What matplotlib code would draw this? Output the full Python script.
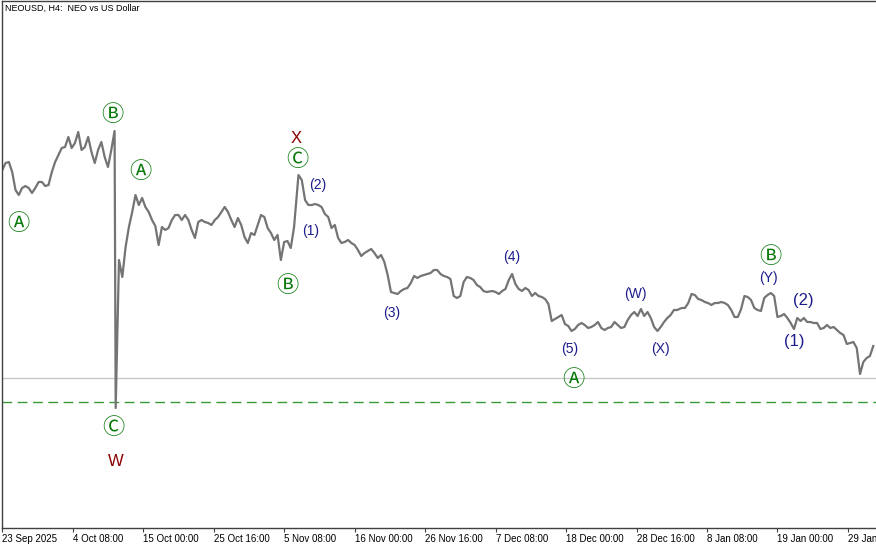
import matplotlib
matplotlib.use('Agg')
import matplotlib.pyplot as plt
import matplotlib.transforms as mtransforms
import pandas as pd

# NEOUSD H4, closes sampled every 12h, split where the time grid restarts
seg_a_start = '2025-09-23 16:00'
seg_a = [4.30, 4.37, 4.38, 4.28, 4.10, 4.05, 4.12, 4.14, 4.12, 4.07, 4.12, 4.18,
         4.18, 4.14, 4.15, 4.28, 4.38, 4.45, 4.52, 4.53, 4.63, 4.52, 4.57, 4.68,
         4.50, 4.53, 4.63, 4.48, 4.37, 4.50, 4.58, 4.43, 4.33, 4.50, 4.69]

crash_time = '2025-10-10 20:00'
crash_low = 1.92

seg_b_start = '2025-10-11 08:00'
seg_b = [3.40, 3.23, 3.53, 3.73, 3.88, 4.05, 3.95, 4.02, 3.93, 3.88, 3.80, 3.74,
         3.55, 3.73, 3.70, 3.72, 3.80, 3.85, 3.85, 3.80, 3.85, 3.80, 3.70, 3.62,
         3.78, 3.80, 3.78, 3.77, 3.75, 3.80, 3.83, 3.88, 3.93, 3.88, 3.80, 3.73,
         3.82, 3.75, 3.63, 3.57, 3.67, 3.65, 3.75, 3.85, 3.83, 3.72, 3.67, 3.60,
         3.65, 3.40, 3.58, 3.59, 3.52, 3.73]

seg_c_start = '2025-11-07 12:00'
seg_c = [4.25, 4.20, 4.00, 3.95, 3.95, 3.96, 3.95, 3.93, 3.86, 3.83, 3.72, 3.75,
         3.62, 3.57, 3.58, 3.60, 3.57, 3.55, 3.50, 3.44, 3.47, 3.49, 3.51, 3.47,
         3.42, 3.45, 3.38, 3.25, 3.08, 3.07, 3.06, 3.09, 3.11, 3.12, 3.17, 3.24,
         3.22, 3.24, 3.25, 3.26, 3.27, 3.30, 3.30, 3.26, 3.24, 3.23, 3.21, 3.04,
         3.02, 3.04, 3.18, 3.23, 3.22, 3.20, 3.15, 3.13, 3.09, 3.08]

seg_d_start = '2025-12-06 20:00'
seg_d = [3.09, 3.08, 3.06, 3.09, 3.11, 3.20, 3.26, 3.16, 3.11, 3.09, 3.12, 3.10,
         3.04, 3.07, 3.04, 3.03, 3.01, 2.96, 2.79, 2.81, 2.83, 2.85, 2.76, 2.74,
         2.69, 2.71, 2.75, 2.77, 2.75, 2.72, 2.73, 2.75, 2.78, 2.72, 2.70, 2.72,
         2.73, 2.78, 2.75, 2.72, 2.73, 2.80, 2.85, 2.88, 2.84, 2.91, 2.84, 2.88,
         2.82, 2.73, 2.69, 2.73, 2.78, 2.82, 2.85, 2.90, 2.90]

seg_e_start = '2026-01-04 12:00'
seg_e = [2.92, 2.92, 2.97, 3.06, 3.05, 3.01, 3.00, 2.98, 2.97, 2.95, 2.97, 2.97,
         2.98, 2.97, 2.95, 2.90, 2.83, 2.83, 2.91, 3.04, 3.03, 3.00, 2.92, 2.90,
         2.89, 3.02, 3.05, 3.07, 3.04, 2.83, 2.84, 2.86, 2.82, 2.77, 2.71, 2.82,
         2.79, 2.82, 2.78, 2.78, 2.77, 2.77, 2.71, 2.72, 2.75, 2.72, 2.73, 2.70,
         2.67, 2.65, 2.56, 2.57, 2.58, 2.52, 2.26, 2.38, 2.42, 2.44, 2.54]

gray_level = 2.22
target_level = 1.98

tick_dates = ['2025-09-23 16:00', '2025-10-04 08:00', '2025-10-15 00:00',
              '2025-10-25 16:00', '2025-11-05 08:00', '2025-11-16 00:00',
              '2025-11-26 16:00', '2025-12-07 08:00', '2025-12-18 00:00',
              '2025-12-28 16:00', '2026-01-08 08:00', '2026-01-19 00:00',
              '2026-01-29 16:00']
tick_labels = ['23 Sep 2025', '4 Oct 08:00', '15 Oct 00:00', '25 Oct 16:00',
               '5 Nov 08:00', '16 Nov 00:00', '26 Nov 16:00', '7 Dec 08:00',
               '18 Dec 00:00', '28 Dec 16:00', '8 Jan 08:00', '19 Jan 00:00',
               '29 Jan 16:00']

GREEN = '#0a7a0a'
NAVY = '#1c1c8c'
RED = '#8b0000'
CIRCLED = ['\u24b6', '\u24b7', '\u24b8']
# wave labels: text, time, price, colour, size
wave_labels = [
    ('\u24b6', '2025-09-26 03:00', 3.77, GREEN, 16),
    ('\u24b7', '2025-10-10 08:00', 4.86, GREEN, 16),
    ('\u24b6', '2025-10-14 14:00', 4.29, GREEN, 16),
    ('\u24b8', '2025-10-10 12:00', 1.72, GREEN, 16),
    ('W', '2025-10-10 20:00', 1.38, RED, 12),
    ('X', '2025-11-07 04:00', 4.62, RED, 12),
    ('\u24b8', '2025-11-07 08:00', 4.41, GREEN, 16),
    ('(2)', '2025-11-10 08:30', 4.15, NAVY, 10),
    ('(1)', '2025-11-09 07:00', 3.69, NAVY, 10),
    ('\u24b7', '2025-11-05 19:40', 3.15, GREEN, 16),
    ('(3)', '2025-11-21 13:00', 2.87, NAVY, 10),
    ('(4)', '2025-12-09 17:00', 3.43, NAVY, 10),
    ('(5)', '2025-12-18 15:00', 2.51, NAVY, 10),
    ('\u24b6', '2025-12-19 02:00', 2.20, GREEN, 16),
    ('(W)', '2025-12-28 11:00', 3.06, NAVY, 10),
    ('(X)', '2026-01-01 06:00', 2.51, NAVY, 10),
    ('\u24b7', '2026-01-17 21:00', 3.44, GREEN, 16),
    ('(Y)', '2026-01-17 17:00', 3.22, NAVY, 10),
    ('(2)', '2026-01-22 21:00', 2.99, NAVY, 12),
    ('(1)', '2026-01-21 12:00', 2.59, NAVY, 12),
]

# build the series
times = list(pd.date_range(seg_a_start, periods=len(seg_a), freq='12h'))
prices = list(seg_a)
times.append(pd.Timestamp(crash_time))
prices.append(crash_low)
for start, vals in [(seg_b_start, seg_b), (seg_c_start, seg_c),
                    (seg_d_start, seg_d), (seg_e_start, seg_e)]:
    times += list(pd.date_range(start, periods=len(vals), freq='12h'))
    prices += vals

W, H = 876, 545
fig = plt.figure(figsize=(W / 100, H / 100), dpi=100)
ax = fig.add_axes([2 / W, (H - 528) / H, (W - 2) / W, 527 / H])

ax.axhline(gray_level, color='#c8c8c8', lw=1)
ax.axhline(target_level, color='#3a9a3a', lw=1, dashes=(7, 4))
ax.plot(times, prices, color='#747474', lw=1.6)

for txt, t, p, c, s in wave_labels:
    if txt in CIRCLED:
        fam = ['Noto Sans CJK JP', 'DejaVu Sans']
    else:
        fam = ['Liberation Sans', 'DejaVu Sans']
    ax.text(pd.Timestamp(t), p, txt, color=c, fontsize=s, ha='center',
            va='center', family=fam)

ax.set_xlim(pd.Timestamp('2025-09-23 15:00'), pd.Timestamp('2026-02-02 22:00'))
ax.set_ylim(0.72, 5.99)

ax.set_xticks([pd.Timestamp(d) for d in tick_dates])
ax.set_xticklabels(tick_labels, family='Liberation Sans', fontsize=7, ha='left')
offset = mtransforms.ScaledTranslation(1 / 100, 0, fig.dpi_scale_trans)
for lab in ax.get_xticklabels():
    lab.set_transform(lab.get_transform() + offset)
ax.tick_params(axis='x', direction='out', length=3, width=0.8, color='#404040', pad=1)
ax.set_yticks([])

for side in ['left', 'top', 'bottom']:
    ax.spines[side].set_color('#404040')
    ax.spines[side].set_linewidth(1)
ax.spines['right'].set_visible(False)

fig.text(5 / W, 1 - 8 / H, 'NEOUSD, H4:  NEO vs US Dollar', fontsize=6.5,
         family='Liberation Sans', va='center', ha='left')

fig.savefig('out.png', dpi=100)
